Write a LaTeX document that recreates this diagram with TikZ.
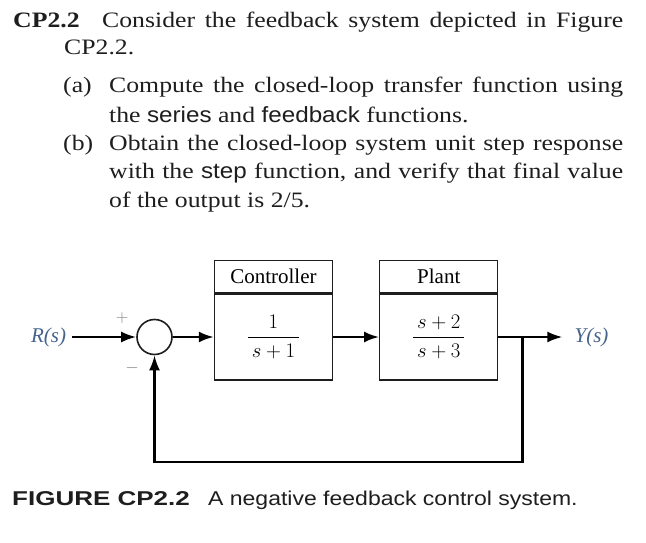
\documentclass[tikz,border=0pt]{standalone}
\usepackage{amsmath}
\usepackage{fontspec}
\setmainfont{Liberation Serif}
\newfontfamily\bookfont{Liberation Serif}[FakeStretch=1.17]
\newfontfamily\fnfont{Liberation Sans}[FakeStretch=1.1]
\newfontfamily\capfont{Liberation Sans}[FakeStretch=1.15]
\newfontfamily\capboldfont{Liberation Sans}[FakeStretch=1.3]
\usetikzlibrary{arrows.meta,positioning}
\definecolor{sigblue}{RGB}{70,100,140}
\definecolor{ink}{RGB}{30,30,30}
\newcommand{\fn}[1]{{\fnfont #1}}
\newcommand{\jline}[2]{\makebox[#1][s]{#2}}
\newcommand{\pad}[1]{\hspace{4pt}#1\hspace{4pt}}
\tikzset{
  %Define standard arrow tip
  >={Latex[length=15pt,width=11pt]},
  %Define style for blocks
  boks/.style={
    rectangle,
    draw=ink, line width=1.3pt,
    minimum width=118pt,
    minimum height=86pt,
    inner sep=0pt,
    font=\fontsize{20}{24}\selectfont},
  topp/.style={
    boks,
    minimum height=32pt,
    font=\fontsize{21}{25}\selectfont},
  % Define signal line style
  linje/.style={
    ->,
    draw=black,
    line width=2.4pt},
  % text of the problem
  txt/.style={
    anchor=base west,
    inner sep=0pt,
    text=ink,
    font=\bookfont\fontsize{22}{26}\selectfont},
  sign/.style={text=gray, inner sep=0pt, font=\fontsize{17}{19}\selectfont},
  sig/.style={text=sigblue, inner ysep=0pt, font=\fontsize{21}{25}\selectfont\itshape}
}
\begin{document}
\begin{tikzpicture}[x=1pt,y=-1pt]
  \useasboundingbox (0,0) rectangle (646,543);
  \fill[white] (0,0) rectangle (646,543);
  % problem text
  \node[txt, font=\bookfont\bfseries\fontsize{22}{26}\selectfont] (num) at (13,28) {CP2.2};
  \node[txt] (l1) at (102,28) {\jline{521pt}{Consider the feedback system depicted in Figure}};
  \node[txt] (l2) at (64,55) {CP2.2.};
  \node[txt] (pa) at (63,93) {(a)};
  \node[txt] (la1) at (109,93) {\jline{514pt}{Compute the closed-loop transfer function using}};
  \node[txt] (la2) at (109,122) {the \fn{series} and \fn{feedback} functions.};
  \node[txt] (pb) at (63,150) {(b)};
  \node[txt] (lb1) at (109,150) {\jline{514pt}{Obtain the closed-loop system unit step response}};
  \node[txt] (lb2) at (109,178) {\jline{514pt}{with the \fn{step} function, and verify that final value}};
  \node[txt] (lb3) at (109,207) {of the output is 2/5.};
  % block diagram
  \node[circle, draw=ink, line width=1.6pt, minimum size=35pt, inner sep=0pt] (sum) at (154.5,337) {};
  \node[sig, left=64pt of sum, inner xsep=6pt] (R) {R(s)};
  \node[boks, right=41pt of sum] (ctrl) {$\dfrac{1}{\pad{s+1}}$};
  \node[topp, above=0pt of ctrl] (ctrlhead) {Controller};
  \node[boks, right=46pt of ctrl] (plant) {$\dfrac{s+2}{\pad{s+3}}$};
  \node[topp, above=0pt of plant] (planthead) {Plant};
  \node[sig, right=64pt of plant, inner xsep=12pt] (Y) {Y(s)};
  \coordinate[right=24pt of plant] (branch);
  \coordinate[below=125pt of branch] (fbend);
  \node[sign] (plus) at (122,318) {$+$};
  \node[sign] (minus) at (132,368) {$-$};
  \draw[linje] (R) -- (sum);
  \draw[linje] (sum) -- (ctrl);
  \draw[linje] (ctrl) -- (plant);
  \draw[linje] (plant) -- (Y);
  \draw[linje] (branch) -- (fbend) -| (sum.south);
  % caption
  \node[txt, font=\capboldfont\bfseries\fontsize{20}{24}\selectfont] (fig) at (12,505) {FIGURE CP2.2};
  \node[txt, font=\capfont\fontsize{20}{24}\selectfont] (cap) at (208,505) {A negative feedback control system.};
\end{tikzpicture}
\end{document}
